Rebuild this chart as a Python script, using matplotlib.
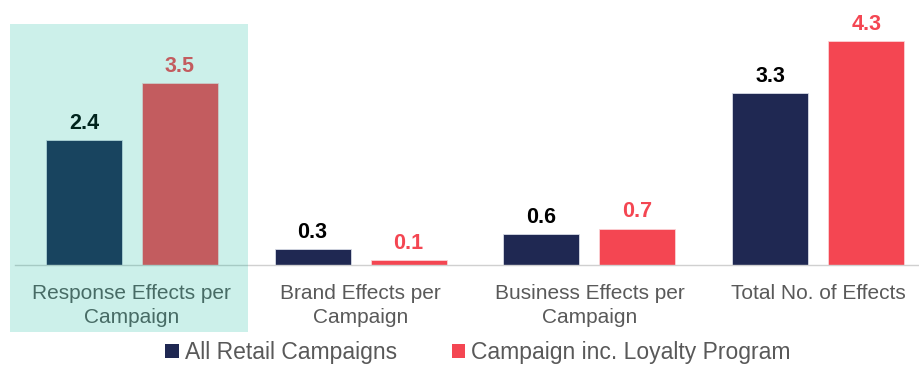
import matplotlib
matplotlib.use("Agg")
import matplotlib.pyplot as plt
import numpy as np
from matplotlib.patches import Rectangle, Patch

plt.rcParams['font.family'] = ['Liberation Sans', 'DejaVu Sans']

categories = ["Response Effects per\nCampaign", "Brand Effects per\nCampaign",
              "Business Effects per\nCampaign", "Total No. of Effects"]
all_retail = [2.4, 0.3, 0.6, 3.3]
loyalty = [3.5, 0.1, 0.7, 4.3]
series_names = ["All Retail Campaigns", "Campaign inc. Loyalty Program"]

navy = "#1f2852"
red = "#f44652"
grey_text = "#595959"

fig = plt.figure(figsize=(9.19, 3.65), dpi=100)
ax = fig.add_axes([15 / 919, 100 / 365, 904 / 919, 241 / 365])

x = np.arange(len(categories))
off = 0.21
w = 0.332
b1 = ax.bar(x - off, all_retail, w, color=navy, edgecolor="#d8dbe6", linewidth=0.6)
b2 = ax.bar(x + off, loyalty, w, color=red, edgecolor="#fbd3d6", linewidth=0.6)

for rect, v in zip(b1, all_retail):
    ax.text(rect.get_x() + rect.get_width() / 2, v + 0.12, f"{v:.1f}",
            ha="center", va="bottom", fontsize=15.5, fontweight="bold", color="black")
for rect, v in zip(b2, loyalty):
    ax.text(rect.get_x() + rect.get_width() / 2, v + 0.12, f"{v:.1f}",
            ha="center", va="bottom", fontsize=15.5, fontweight="bold", color=red)

ax.set_xlim(-0.511, 3.441)
ax.set_ylim(0, 4.63)
ax.set_xticks(x)
ax.set_xticklabels(categories, fontsize=15, color=grey_text, linespacing=1.3)
ax.tick_params(axis="x", length=0, pad=14)
ax.set_yticks([])
for s in ["top", "left", "right"]:
    ax.spines[s].set_visible(False)
ax.spines["bottom"].set_color("#d0d0d0")
ax.spines["bottom"].set_linewidth(1)

handles = [Patch(facecolor=navy), Patch(facecolor=red)]
fig.legend(handles, series_names, loc="center", bbox_to_anchor=(0.52, 0.034),
           ncol=2, frameon=False, fontsize=16.5, labelcolor=grey_text,
           handlelength=0.6, handleheight=0.6, handletextpad=0.25, columnspacing=2.4,
           borderpad=0.1)

# translucent teal highlight over the first group
fig.add_artist(Rectangle((10 / 919, 33 / 365), 238 / 919, 308 / 365,
                         transform=fig.transFigure, facecolor=(0, 0.71, 0.59),
                         alpha=0.2, edgecolor="none", zorder=10))

fig.savefig("out.png", dpi=100)
